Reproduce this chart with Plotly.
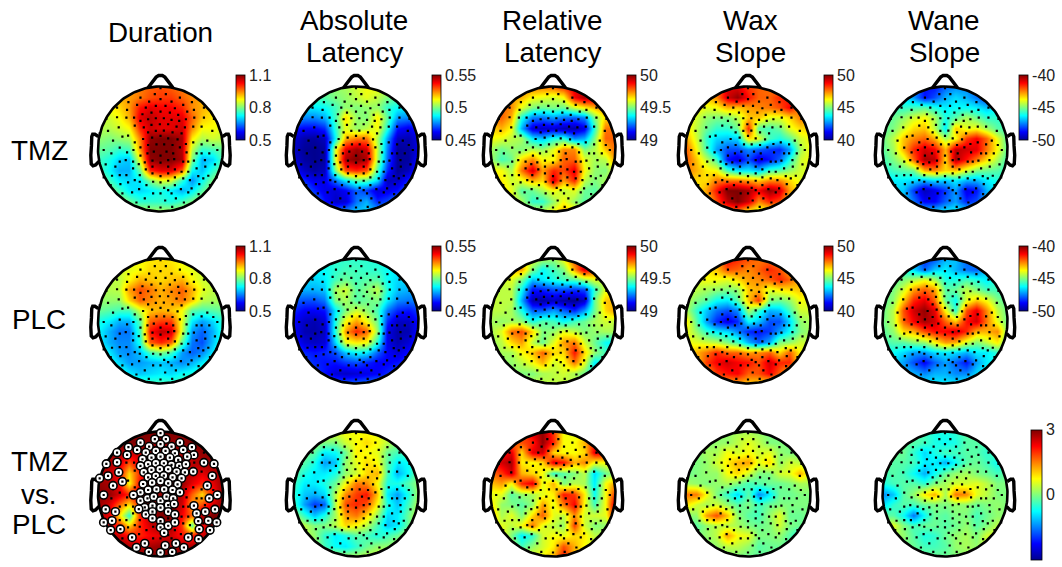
import math
import plotly.graph_objects as go

W, H = 1062, 567
FONT = "Liberation Sans"

COLUMN_TITLES = [["Duration"], ["Absolute", "Latency"], ["Relative", "Latency"], ["Wax", "Slope"], ["Wane", "Slope"]]
ROW_TITLES = [["TMZ"], ["PLC"], ["TMZ", "vs.", "PLC"]]
RANGES = [(0.5, 1.1), (0.45, 0.55), (49, 50), (40, 50), (-50, -40)]
CONTRAST_RANGE = (-3, 3)
TICKVALS = [[0.5, 0.8, 1.1], [0.45, 0.5, 0.55], [49, 49.5, 50], [40, 45, 50], [-50, -45, -40]]
TICKTEXT = [["0.5", "0.8", "1.1"], ["0.45", "0.5", "0.55"], ["49", "49.5", "50"], ["40", "45", "50"], ["-50", "-45", "-40"]]
CONTRAST_TICKVALS = [-3, 0, 3]
CONTRAST_TICKTEXT = ["-3", "0", "3"]

# Values, as percent of each panel's colour range, top row first.
DUR_TMZ = [
[70,70,70,72,75,78,80,78,75,72,70,70,70],
[70,70,70,72,76,80,82,82,78,74,70,70,70],
[62,62,66,72,86,90,88,88,84,74,70,66,66],
[58,58,62,70,90,94,90,90,90,78,68,64,62],
[55,55,58,62,84,92,90,90,92,74,62,62,60],
[52,50,52,54,75,98,100,100,96,64,55,58,56],
[48,46,42,44,72,100,100,100,95,56,42,44,48],
[44,40,34,32,62,98,100,100,96,50,30,34,46],
[46,38,30,30,48,84,90,90,78,38,32,42,50],
[50,44,36,34,36,50,60,58,42,27,38,50,55],
[55,52,44,36,34,36,40,36,30,36,46,55,58],
[58,58,54,48,42,42,42,40,44,50,56,60,60],
[60,60,60,58,56,54,54,54,56,60,60,60,60]]
DUR_PLC = [
[60,60,60,62,62,64,66,64,62,60,60,60,60],
[58,58,58,60,62,66,66,66,62,60,58,58,58],
[56,56,56,62,70,68,66,68,70,62,58,56,56],
[55,55,56,72,80,76,70,74,78,70,60,56,55],
[52,52,52,66,78,74,70,72,76,68,56,54,54],
[48,46,44,44,58,68,70,68,62,46,44,46,48],
[40,36,30,30,46,78,82,82,60,36,28,34,42],
[38,30,24,24,44,86,94,92,58,28,22,30,42],
[38,30,26,26,40,78,84,78,46,24,20,32,44],
[42,36,28,26,32,44,50,44,28,22,26,36,46],
[46,40,34,28,28,30,32,30,26,30,36,42,48],
[48,46,42,36,32,34,36,34,38,40,44,48,48],
[50,50,50,48,46,44,44,44,46,48,50,50,50]]
ABS_TMZ = [
[48,48,48,50,52,54,58,62,62,55,50,48,48],
[45,45,44,46,50,52,56,60,56,50,46,45,45],
[36,36,36,38,44,52,50,52,52,42,38,36,36],
[30,26,26,30,44,66,52,50,64,46,28,26,28],
[14,12,12,16,42,60,52,56,62,40,14,10,16],
[8,3,2,5,38,70,76,76,54,28,5,4,10],
[6,1,0,2,60,90,97,92,56,24,1,2,10],
[8,2,0,2,60,96,100,96,54,22,1,2,14],
[14,6,2,5,50,80,84,80,44,16,1,5,20],
[24,16,10,10,24,36,46,46,34,5,6,16,28],
[32,24,16,10,8,12,22,18,8,10,14,24,32],
[36,34,26,14,6,8,24,30,16,20,28,32,36],
[38,38,36,30,26,28,32,34,30,30,34,38,38]]
ABS_PLC = [
[38,38,38,40,42,42,42,42,40,38,38,38,38],
[36,36,36,38,42,44,44,42,42,38,36,36,36],
[34,34,34,36,44,48,44,46,46,38,34,34,34],
[30,30,30,32,54,58,46,50,56,40,32,30,30],
[22,20,20,24,50,54,46,48,50,36,26,24,26],
[16,12,12,14,36,50,58,52,44,24,16,14,18],
[12,6,4,8,40,62,72,62,48,16,6,6,14],
[12,4,3,6,42,72,84,78,52,10,3,4,14],
[16,8,6,8,34,60,64,62,40,10,4,8,18],
[22,16,14,16,20,32,38,36,22,12,8,14,24],
[26,20,16,14,14,18,20,16,12,12,14,18,26],
[30,24,18,14,8,6,8,10,12,16,20,26,30],
[32,32,30,26,22,22,22,24,26,28,30,32,32]]
REL_TMZ = [
[70,70,72,74,76,76,78,84,90,92,88,70,70],
[72,72,72,70,62,60,58,62,88,96,92,80,70],
[76,78,74,60,50,48,50,48,58,64,70,76,72],
[76,78,70,40,25,24,28,24,22,26,50,66,68],
[66,70,62,30,8,6,8,4,3,10,42,76,76],
[62,60,56,54,36,32,40,42,26,30,50,78,78],
[54,48,52,50,56,52,60,74,74,50,55,68,78],
[54,44,48,66,74,62,62,78,78,60,54,56,74],
[62,62,54,76,92,72,84,80,90,62,52,50,62],
[66,64,58,60,70,66,92,72,84,56,50,54,60],
[66,66,60,46,48,54,62,56,60,48,46,54,62],
[62,62,60,54,42,42,52,62,52,46,52,60,62],
[60,60,60,60,58,56,62,70,66,60,60,60,60]]
REL_PLC = [
[60,60,62,66,60,55,52,62,80,88,80,62,60],
[64,64,68,72,50,38,44,50,72,92,82,62,60],
[58,58,60,50,32,36,40,44,46,54,60,56,56],
[56,56,56,38,14,16,20,20,18,20,42,60,60],
[58,56,56,30,4,2,6,2,0,6,48,68,70],
[56,56,54,40,22,22,28,22,16,28,48,66,72],
[54,52,54,52,40,46,44,38,44,48,54,58,56],
[54,60,76,80,66,50,52,60,56,50,52,54,54],
[52,56,66,72,56,48,60,72,76,58,48,38,36],
[52,54,54,62,68,78,66,66,86,66,52,44,46],
[52,52,52,56,62,70,58,62,76,60,36,42,50],
[52,52,52,50,50,54,56,58,54,48,36,48,52],
[56,56,56,56,56,56,56,56,56,56,56,56,56]]
WAX_TMZ = [
[66,66,70,78,90,90,82,78,76,74,70,66,66],
[66,66,68,74,92,98,86,78,78,84,84,70,66],
[64,64,60,62,70,68,72,74,76,80,88,72,66],
[64,58,52,50,50,56,68,68,60,60,66,76,68],
[66,56,48,42,42,48,84,46,44,48,60,66,66],
[72,58,42,34,32,34,66,60,44,40,46,58,62],
[80,62,44,28,20,20,26,22,18,16,28,54,62],
[80,68,56,44,14,8,20,8,14,22,40,58,62],
[76,70,64,62,44,36,36,32,44,46,52,58,60],
[68,66,66,76,76,76,72,68,74,74,66,60,58],
[62,62,72,86,100,100,96,88,98,92,72,62,60],
[60,60,66,80,94,100,92,74,84,80,66,60,60],
[60,60,60,62,72,74,62,58,60,60,60,60,60]]
WAX_PLC = [
[62,62,66,72,88,84,80,76,76,72,68,62,62],
[62,62,64,68,80,78,74,78,84,80,70,64,62],
[60,60,62,62,60,66,72,74,78,84,78,68,62],
[58,56,54,52,50,52,68,70,60,64,66,68,62],
[56,50,46,38,36,46,68,82,50,48,52,62,60],
[56,42,32,24,20,26,54,42,30,32,44,58,58],
[66,46,28,16,10,16,38,32,20,20,34,52,54],
[62,52,42,36,34,26,16,14,18,28,38,50,54],
[62,60,58,56,50,44,30,22,30,50,52,58,56],
[62,70,76,84,78,78,72,74,78,66,78,62,60],
[62,66,82,88,92,88,86,80,92,84,84,62,60],
[62,62,70,82,86,88,78,80,88,78,66,60,60],
[60,60,60,66,70,70,68,66,64,60,60,60,60]]
WANE_TMZ = [
[40,40,36,26,14,14,22,26,26,22,26,36,40],
[40,40,36,28,14,20,30,34,30,24,18,34,40],
[44,44,42,44,46,40,36,38,38,36,32,38,42],
[46,48,52,58,62,54,40,46,54,48,42,42,44],
[46,50,58,66,68,56,36,68,60,62,54,46,44],
[48,56,68,74,78,70,54,62,82,88,78,60,46],
[46,54,70,84,92,88,70,94,92,90,76,62,46],
[44,50,58,78,96,94,66,96,86,76,66,54,44],
[40,44,46,48,70,74,66,68,58,50,48,46,42],
[36,36,36,34,30,34,32,36,30,30,36,40,40],
[36,34,32,18,5,10,18,28,10,14,30,38,40],
[38,36,34,24,12,12,22,28,16,20,32,38,40],
[40,40,38,36,34,34,36,38,36,36,38,40,40]]
WANE_PLC = [
[42,42,40,30,16,20,30,32,22,26,36,42,42],
[42,42,40,34,22,32,36,30,24,22,32,40,42],
[44,46,50,54,60,54,40,40,44,40,36,42,44],
[46,50,58,72,78,72,46,48,56,50,44,44,44],
[46,52,68,84,90,78,48,38,60,68,62,50,46],
[48,56,80,92,98,90,62,42,80,90,74,56,48],
[48,56,78,88,96,92,78,68,86,92,76,60,48],
[46,52,66,70,80,86,88,92,84,70,70,74,50],
[44,46,46,50,52,62,72,70,58,50,56,64,46],
[36,38,34,28,28,34,36,34,30,36,36,42,42],
[36,34,28,20,12,22,28,22,14,28,36,40,42],
[38,36,32,30,26,30,30,26,26,34,38,40,42],
[40,40,40,38,36,36,36,36,38,40,40,40,42]]
DUR_DIFF = [
[100,100,100,100,100,100,100,100,100,100,100,100,100],
[100,100,100,100,100,98,98,98,98,100,100,100,100],
[100,98,96,92,94,96,96,96,96,96,98,100,100],
[98,96,92,80,92,94,96,90,88,94,96,98,98],
[96,94,88,66,84,96,98,98,96,94,90,94,98],
[98,96,88,62,88,92,98,100,98,90,84,90,98],
[100,98,92,84,92,96,98,100,94,78,66,86,98],
[98,92,78,66,86,96,100,100,92,72,80,92,98],
[96,90,66,42,84,96,100,100,88,78,96,100,100],
[96,92,84,66,84,92,98,96,82,46,86,100,100],
[98,96,92,86,84,88,90,92,86,84,92,98,100],
[100,100,100,96,94,96,98,98,96,96,100,100,100],
[100,100,100,100,100,100,100,100,100,100,100,100,100]]
ABS_DIFF = [
[58,58,58,60,60,62,62,62,60,58,58,58,58],
[56,56,54,50,50,58,62,66,62,56,50,50,54],
[52,50,46,36,38,48,64,62,60,48,44,44,50],
[50,46,40,28,32,52,60,66,62,46,36,38,48],
[48,40,36,36,40,52,58,66,70,44,30,38,50],
[44,36,36,40,48,62,76,74,62,40,40,46,52],
[42,32,30,34,56,74,82,86,68,36,28,40,54],
[44,28,18,22,56,80,84,80,62,40,32,44,56],
[54,42,32,40,54,72,76,66,52,34,36,48,58],
[62,56,50,50,56,66,62,56,44,32,36,48,58],
[60,56,52,42,36,40,46,44,40,44,48,56,60],
[60,58,54,44,38,36,42,48,52,52,56,60,60],
[60,60,60,58,56,54,54,56,58,60,60,60,60]]
REL_DIFF = [
[62,62,66,76,92,98,82,62,60,60,62,60,60],
[72,72,76,80,84,98,84,62,62,70,84,78,60],
[82,86,90,66,90,92,66,62,62,66,90,90,62],
[84,92,96,64,62,66,90,86,70,74,62,62,60],
[76,82,92,70,66,62,42,46,50,56,34,48,54],
[68,72,62,84,90,60,70,50,56,54,36,62,72],
[60,60,46,52,54,60,64,86,82,64,38,62,84],
[66,52,50,46,52,72,60,76,88,62,44,62,94],
[72,54,60,50,66,78,60,56,74,58,58,60,90],
[62,60,56,62,76,60,56,52,82,58,50,52,64],
[62,62,50,36,42,58,62,60,66,64,56,56,62],
[60,62,56,44,52,58,64,80,70,62,58,68,70],
[60,60,60,60,60,62,70,86,68,60,62,70,70]]
WAX_DIFF = [
[50,50,50,50,52,54,54,52,50,50,50,50,50],
[50,50,50,52,52,56,60,56,50,50,50,50,50],
[50,50,54,54,62,58,62,58,60,52,50,50,50],
[48,50,52,58,64,70,72,60,66,52,58,56,50],
[48,50,52,52,62,66,58,50,50,58,60,70,58],
[54,52,50,52,54,50,44,46,48,48,50,54,54],
[76,76,62,50,42,34,46,26,36,48,48,50,50],
[66,58,54,58,52,46,50,44,48,50,50,50,50],
[50,52,72,80,68,52,46,44,52,60,48,48,50],
[48,46,52,56,56,54,50,48,50,58,50,48,50],
[50,50,52,56,72,62,60,50,50,52,46,38,50],
[50,50,50,52,56,56,52,46,48,48,46,42,50],
[50,50,50,50,50,50,48,48,48,48,48,48,50]]
WANE_DIFF = [
[48,48,48,46,44,40,40,42,46,48,46,48,48],
[48,48,48,46,44,40,38,40,46,46,44,46,48],
[50,48,48,42,34,40,44,44,46,46,42,46,48],
[48,46,46,44,36,36,30,38,46,48,44,38,46],
[44,46,44,38,30,38,48,52,54,50,48,44,48],
[40,44,46,46,42,50,54,58,58,60,56,50,50],
[26,32,46,52,64,70,54,76,74,60,56,50,50],
[34,42,46,44,48,50,50,52,52,48,50,52,50],
[48,46,38,24,38,48,46,50,50,44,48,52,50],
[56,60,50,44,48,48,46,48,52,46,50,56,52],
[50,54,52,46,40,42,48,52,54,50,58,60,52],
[50,50,50,48,44,44,46,52,54,52,58,60,52],
[50,50,50,50,48,48,48,50,52,52,54,54,52]]

PANELS = [
    [DUR_TMZ, ABS_TMZ, REL_TMZ, WAX_TMZ, WANE_TMZ],
    [DUR_PLC, ABS_PLC, REL_PLC, WAX_PLC, WANE_PLC],
    [DUR_DIFF, ABS_DIFF, REL_DIFF, WAX_DIFF, WANE_DIFF],
]

# Electrodes, in a frame with head centre (182, 252) and radius 187.
SIG_ELECTRODES = [
(182,70),(165,88),(198,88),(122,98),(240,98),(86,112),(276,112),(148,110),(182,103),(215,110),
(52,128),(112,120),(138,128),(168,123),(197,123),(225,130),(250,120),(82,135),(282,135),
(128,148),(155,143),(182,140),(210,143),(235,150),(262,140),
(20,162),(52,157),(145,163),(168,160),(192,160),(215,165),(238,168),(258,163),(312,158),(342,162),(122,168),
(155,180),(180,178),(205,178),(230,185),(255,187),(57,187),(280,185),(132,187),
(25,198),(0,205),(145,202),(168,198),(192,197),(218,202),(245,205),(337,198),
(68,215),(130,222),(157,218),(182,213),(205,220),(233,223),(322,227),(40,227),
(122,247),(145,240),(170,238),(193,238),(218,240),(240,247),(101,255),(12,255),(352,255),
(122,272),(143,265),(162,260),(182,272),(200,260),(220,265),(328,265),
(135,292),(158,287),(182,293),(205,285),(223,282),(117,297),(18,298),(47,305),(282,287),(345,298),(316,305),(205,305),(290,310),
(138,313),(158,305),(225,313),(158,325),(182,333),(205,347),(225,337),(37,332),(12,337),(295,333),(325,332),(350,337),
(182,352),(193,368),(62,357),(33,360),(298,357),(330,360),
(97,382),(265,382),(296,387),(135,400),(228,400),(196,406),(110,412),(252,412),(147,425),(182,427),(217,425)]
OTHER_ELECTRODES = [
(80,158),(103,158),(105,182),(312,128),(283,158),(305,185),(85,212),(105,232),(60,248),(35,265),(82,262),(60,290),
(100,290),(78,285),(258,237),(280,232),(305,238),(260,262),(290,265),(250,290),(265,290),(305,265),(100,310),(80,330),
(120,330),(105,345),(140,360),(118,372),(85,352),(60,330),(68,385),(245,320),(265,320),(250,340),(270,345),(205,325),
(160,350),(225,360),(243,372),(182,385),(160,385),(215,385),(310,340),(205,375),(275,370),(120,350),(315,285),(340,240)]
HEAD_CENTER = (182.0, 252.0)
HEAD_UNITS = 187.0

JET = [[0, "#00008f"], [0.125, "#0000ff"], [0.375, "#00ffff"], [0.625, "#ffff00"], [0.875, "#ff0000"], [1, "#800000"]]

CENTERS_X = [160.5, 356, 553, 748, 945]
CENTERS_Y = [149, 321, 494]
RADIUS_PX = 62.5
SPAN_TOP = 1.35
SPAN_BOTTOM = 1.12
SPAN_X = 1.35
BAR_X = [235.5, 431.5, 627, 823.5, 1019]
BAR_TOP = [75, 246]
BAR_LEN = 65
GRID = [-1 + k / 6 for k in range(13)]

def px_x(p):
    return p / W

def px_y(p):
    return 1 - p / H

def head_x(pts):
    return [(p[0] - HEAD_CENTER[0]) / HEAD_UNITS for p in pts]

def head_y(pts):
    return [(HEAD_CENTER[1] - p[1]) / HEAD_UNITS for p in pts]

ring = [(math.sin(2 * math.pi * k / 180), math.cos(2 * math.pi * k / 180)) for k in range(181)]
MASK_EDGE = 1.1
mask_x = [0, MASK_EDGE, MASK_EDGE, -MASK_EDGE, -MASK_EDGE, 0, 0] + [p[0] for p in reversed(ring)] + [0]
mask_y = [MASK_EDGE, MASK_EDGE, -MASK_EDGE, -MASK_EDGE, MASK_EDGE, MASK_EDGE, 1.0] + [p[1] for p in reversed(ring)] + [MASK_EDGE]
NOSE_X = [-0.2, -0.07, -0.03, 0.03, 0.07, 0.2]
NOSE_Y = [0.98, 1.15, 1.175, 1.175, 1.15, 0.98]
EAR_X = [0.995, 1.05, 1.085, 1.1, 1.105, 1.115, 1.108, 1.08, 1.04, 0.985]
EAR_Y = [0.2, 0.235, 0.235, 0.2, 0.05, -0.1, -0.24, -0.27, -0.255, -0.2]

fig = go.Figure()
layout = {}
head_line = dict(mode="lines", hoverinfo="skip", showlegend=False, line=dict(color="black", width=2.6))
bold_line = dict(mode="lines", hoverinfo="skip", showlegend=False, line=dict(color="black", width=3.4))
tick_font = dict(family=FONT, size=16, color="#222")
ax_i = 0
for r, row in enumerate(PANELS):
    for c, grid in enumerate(row):
        ax_i += 1
        xn, yn = ("x", "y") if ax_i == 1 else (f"x{ax_i}", f"y{ax_i}")
        cx, cy = CENTERS_X[c], CENTERS_Y[r]
        layout["xaxis" + ("" if ax_i == 1 else str(ax_i))] = dict(
            visible=False, fixedrange=True, range=[-SPAN_X, SPAN_X],
            domain=[px_x(cx - SPAN_X * RADIUS_PX), px_x(cx + SPAN_X * RADIUS_PX)], anchor=yn)
        layout["yaxis" + ("" if ax_i == 1 else str(ax_i))] = dict(
            visible=False, fixedrange=True, range=[-SPAN_BOTTOM, SPAN_TOP],
            domain=[px_y(cy + SPAN_BOTTOM * RADIUS_PX), px_y(cy - SPAN_TOP * RADIUS_PX)], anchor=xn)
        lo, hi = RANGES[c] if r < 2 else CONTRAST_RANGE
        z = [[lo + (hi - lo) * v / 100 for v in vals] for vals in grid]
        hm = dict(z=z, x=GRID, y=GRID[::-1], zmin=lo, zmax=hi, colorscale=JET, zsmooth="best",
                  hoverinfo="skip", xaxis=xn, yaxis=yn, showscale=False)
        if r < 2:
            hm["showscale"] = True
            hm["colorbar"] = dict(
                x=px_x(BAR_X[c]), xanchor="left", xref="paper", y=px_y(BAR_TOP[r]), yanchor="top", yref="paper",
                len=BAR_LEN, lenmode="pixels", thickness=8.5, thicknessmode="pixels", xpad=0, ypad=0,
                outlinewidth=0.8, outlinecolor="black", tickvals=TICKVALS[c], ticktext=TICKTEXT[c],
                ticks="", tickfont=tick_font)
        elif c == 4:
            hm["showscale"] = True
            hm["colorbar"] = dict(
                x=px_x(1031), xanchor="left", xref="paper", y=px_y(429.5), yanchor="top", yref="paper",
                len=129.5, lenmode="pixels", thickness=11, thicknessmode="pixels", xpad=0, ypad=0,
                outlinewidth=0.8, outlinecolor="black", tickvals=CONTRAST_TICKVALS, ticktext=CONTRAST_TICKTEXT,
                ticks="", tickfont=tick_font)
        fig.add_trace(go.Heatmap(**hm))
        fig.add_trace(go.Scatter(x=mask_x, y=mask_y, mode="lines", line=dict(width=0, color="white"),
                                 fill="toself", fillcolor="white", hoverinfo="skip", showlegend=False,
                                 xaxis=xn, yaxis=yn))
        fig.add_trace(go.Scatter(x=[p[0] for p in ring], y=[p[1] for p in ring], xaxis=xn, yaxis=yn, **head_line))
        fig.add_trace(go.Scatter(x=NOSE_X, y=NOSE_Y, xaxis=xn, yaxis=yn, **bold_line))
        fig.add_trace(go.Scatter(x=EAR_X, y=EAR_Y, xaxis=xn, yaxis=yn, **bold_line))
        fig.add_trace(go.Scatter(x=[-v for v in EAR_X], y=EAR_Y, xaxis=xn, yaxis=yn, **bold_line))
        if r == 2 and c == 0:
            fig.add_trace(go.Scatter(x=head_x(SIG_ELECTRODES), y=head_y(SIG_ELECTRODES), mode="markers",
                                     marker=dict(size=8, color="white", line=dict(color="black", width=1.6)),
                                     hoverinfo="skip", showlegend=False, xaxis=xn, yaxis=yn, cliponaxis=False))
        all_pts = SIG_ELECTRODES + OTHER_ELECTRODES
        fig.add_trace(go.Scatter(x=head_x(all_pts), y=head_y(all_pts), mode="markers",
                                 marker=dict(size=2.2, color="black", symbol="square"),
                                 hoverinfo="skip", showlegend=False, xaxis=xn, yaxis=yn))

annotations = []
def label(text, px, py):
    annotations.append(dict(text=text, x=px_x(px), y=px_y(py), xref="paper", yref="paper", showarrow=False,
                            xanchor="center", yanchor="middle", font=dict(family=FONT, size=27.8, color="black")))

TITLE_X = [160.5, 354, 552, 750, 944]
for c, lines in enumerate(COLUMN_TITLES):
    if len(lines) == 1:
        label(lines[0], TITLE_X[c], 33)
    else:
        label(lines[0], TITLE_X[c], 21)
        label(lines[1], TITLE_X[c], 53)
ROW_Y = [[150], [319], [461, 494, 524]]
for r, lines in enumerate(ROW_TITLES):
    for t, py in zip(lines, ROW_Y[r]):
        label(t, 39, py)

fig.update_layout(width=W, height=H, margin=dict(l=0, r=0, t=0, b=0), paper_bgcolor="white", plot_bgcolor="rgba(0,0,0,0)",
                  showlegend=False, annotations=annotations, **layout)
fig.write_html("out.html", config={"displayModeBar": False}, post_script="document.body.style.margin='0';")
